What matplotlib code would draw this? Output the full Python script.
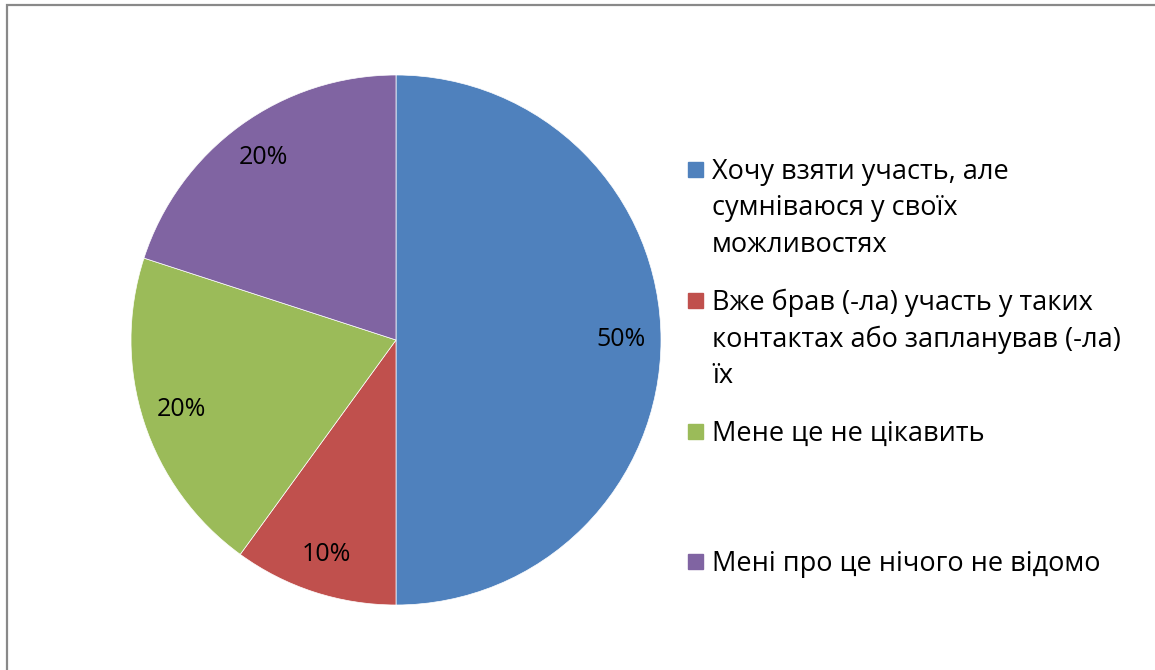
import matplotlib.pyplot as plt
from matplotlib.patches import Rectangle

labels = ['Хочу взяти участь, але\nсумніваюся у своїх\nможливостях',
          'Вже брав (-ла) участь у таких\nконтактах або запланував (-ла)\nїх',
          'Мене це не цікавить',
          'Мені про це нічого не відомо']
values = [50, 10, 20, 20]
colors = ['#4F81BD', '#C0504D', '#9BBB59', '#8064A2']

plt.rcParams['font.family'] = ['Open Sans', 'DejaVu Sans']

W, H = 1155, 670
fig = plt.figure(figsize=(W / 100, H / 100), dpi=100)

# grey chart border (right and bottom fall outside the image)
fig.patches.append(Rectangle((7 / W, -0.1), 1.2, 1.1 - 5 / H, transform=fig.transFigure,
                             fill=False, edgecolor='#898989', linewidth=1.6))

cx, cy, r = 396, 340, 265
ax = fig.add_axes([(cx - r) / W, (H - cy - r) / H, 2 * r / W, 2 * r / H])
ax.pie(values, colors=colors, startangle=90, counterclock=False,
       autopct='%1.0f%%', pctdistance=0.85, radius=1,
       wedgeprops=dict(edgecolor='white', linewidth=0.5),
       textprops=dict(fontsize=18, color='black'))
ax.set_xlim(-1, 1)
ax.set_ylim(-1, 1)
ax.set_aspect('equal')
ax.axis('off')

# legend, drawn by hand for the even Excel-style spacing
centers = [169, 300.5, 431, 561.5]
for lab, col, yc in zip(labels, colors, centers):
    fig.patches.append(Rectangle((688 / W, 1 - (yc + 7.5) / H), 15 / W, 15 / H,
                                 transform=fig.transFigure, color=col))
    for i, line in enumerate(lab.split('\n')):
        fig.text(712 / W, 1 - (yc + 9.5 + 36.5 * i) / H, line, fontsize=19.5,
                 va='baseline', ha='left')

fig.savefig('out.png', dpi=100)
